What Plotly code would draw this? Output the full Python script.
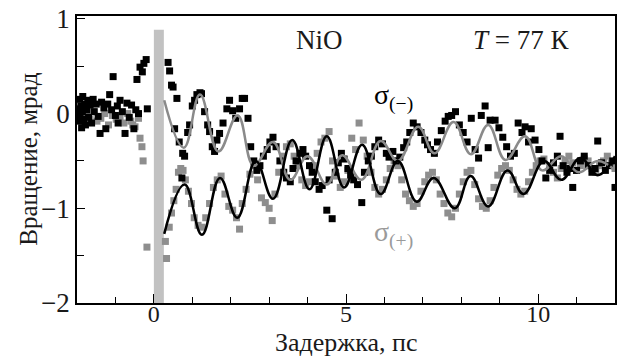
import plotly.graph_objects as go

# ---- data: sigma(-) measured points (black) ----
minus_t = [-1.97,-1.95,-1.93,-1.92,-1.9,-1.88,-1.86,-1.85,-1.83,-1.8,-1.78,-1.75,-1.72,-1.7,-1.66,-1.62,-1.58,-1.55,-1.5,-1.45,
           -1.4,-1.36,-1.3,-1.25,-1.2,-1.15,-1.1,-1.06,-1.0,-0.95,-0.93,-0.88,-0.82,-0.75,-0.7,-0.64,-0.58,-0.52,-0.47,-0.44,
           -0.4,-0.36,-0.3,-0.26,-0.2,-0.17,
           0.37,0.41,0.46,0.5,0.54,0.6,0.66,0.73,0.75,0.8,0.88,0.93,1.0,1.06,1.12,1.2,1.24,1.32,1.4,1.45,1.52,1.58,1.64,1.71,
           1.8,1.9,1.97,2.05,2.13,2.23,2.3,2.36,2.45,2.52,2.6,2.68,2.76,2.85,2.95,3.02,3.1,3.18,3.28,3.38,3.45,3.55,3.62,3.7,
           3.8,3.88,3.95,4.05,4.12,4.2,4.3,4.38,4.5,4.56,4.64,4.72,4.8,4.88,4.95,5.05,5.12,5.2,5.3,5.41,5.48,5.58,5.66,5.75,
           5.85,5.95,6.05,6.12,6.22,6.3,6.4,6.5,6.58,6.66,6.75,6.85,6.95,7.05,7.12,7.2,7.3,7.38,7.48,7.58,7.66,7.75,7.85,7.95,
           8.05,8.15,8.26,8.36,8.45,8.52,8.62,8.7,8.75,8.88,8.98,9.08,9.18,9.28,9.38,9.48,9.58,9.66,9.75,9.82,9.92,10.02,10.1,
           10.2,10.3,10.4,10.5,10.57,10.65,10.75,10.82,10.9,11.0,11.1,11.2,11.3,11.4,11.48,11.55,11.65,11.75,11.85,11.94,12.0]
minus_v = [0.05,-0.08,0.15,-0.02,0.08,-0.15,0.02,0.18,-0.06,0.1,-0.12,0.04,0.14,-0.04,0.09,-0.1,0.15,0.02,0.1,-0.03,
           -0.21,0.12,0.06,-0.16,0.1,0.2,0.04,0.39,-0.02,0.08,-0.1,0.14,0.02,-0.21,0.11,-0.04,0.09,-0.16,0.04,0.36,
           0.0,0.49,0.44,0.53,0.57,0.05,
           0.54,0.45,0.3,0.28,-0.16,0.16,-0.3,-0.68,-0.42,-0.45,-0.2,-0.12,0.08,0.14,0.2,0.22,0.21,0.02,-0.12,-0.19,-0.35,-0.4,-0.28,-0.21,
           -0.1,0.05,0.14,0.03,-0.05,0.05,0.16,0.16,-0.05,-0.35,-0.5,-0.6,-0.55,-0.45,-0.38,-0.3,-0.25,-0.35,-0.5,-0.62,-0.68,-0.72,-0.58,-0.5,
           -0.42,-0.38,-0.45,-0.55,-0.62,-0.72,-0.8,-0.76,-1.02,-0.7,-1.11,-0.62,-0.52,-0.42,-0.48,-0.58,-0.65,-0.7,-0.75,-0.94,-0.62,-0.5,-0.45,-0.35,
           -0.28,-0.32,-0.42,-0.46,-0.4,-0.5,-0.46,-0.36,-0.3,-0.2,-0.1,-0.14,-0.2,-0.28,-0.33,-0.38,-0.42,-0.3,-0.18,-0.08,-0.03,-0.02,0.02,-0.12,
           -0.2,-0.3,-0.05,-0.38,-0.47,-0.02,0.08,-0.36,-0.07,-0.07,-0.15,-0.25,-0.35,-0.45,-0.42,-0.1,-0.2,-0.14,-0.3,-0.16,-0.28,-0.38,-0.5,
           -0.68,-0.6,-0.52,-0.45,-0.24,-0.55,-0.62,-0.58,-0.78,-0.6,-0.5,-0.45,-0.55,-0.62,-0.58,-0.29,-0.52,-0.6,-0.55,-0.5,-0.78,-0.62]

# ---- data: sigma(+) measured points (grey) ----
plus_t = [-1.96,-1.9,-1.82,-1.74,-1.66,-1.58,-1.48,-1.38,-1.28,-1.18,-1.08,-0.98,-0.88,-0.78,-0.68,-0.6,-0.55,-0.49,-0.4,-0.36,
          -0.31,-0.28,-0.18,
          0.3,0.33,0.4,0.46,0.52,0.58,0.64,0.7,0.76,0.82,0.9,0.98,1.05,1.15,1.25,1.35,1.45,1.55,1.65,1.75,1.85,1.95,2.05,
          2.15,2.23,2.3,2.4,2.5,2.6,2.7,2.8,2.9,3.0,3.08,3.15,3.25,3.35,3.45,3.55,3.65,3.75,3.85,3.95,4.05,4.15,4.25,4.35,
          4.45,4.56,4.65,4.75,4.85,4.95,5.05,5.15,5.25,5.34,5.45,5.55,5.65,5.75,5.85,5.95,6.05,6.15,6.25,6.35,6.45,6.55,
          6.65,6.75,6.85,6.95,7.05,7.15,7.25,7.35,7.45,7.55,7.65,7.75,7.85,7.95,8.05,8.15,8.25,8.35,8.45,8.55,8.65,8.75,
          8.85,8.95,9.05,9.15,9.25,9.35,9.45,9.55,9.65,9.75,9.85,9.95,10.05,10.15,10.3,10.4,10.5,10.6,10.7,10.8,10.9,11.0,
          11.1,11.2,11.3,11.4,11.5,11.6,11.7,11.8,11.9,12.0]
plus_v = [-0.02,0.04,-0.1,0.0,-0.06,0.02,-0.08,-0.05,0.0,-0.12,-0.02,-0.06,-0.04,-0.1,0.0,-0.08,-0.12,-0.14,-0.05,-0.26,
          -0.35,-0.5,-1.41,
          -1.35,-1.53,-1.2,-1.05,-0.92,-0.8,-0.62,-0.58,-0.6,-0.7,-0.82,-0.95,-1.1,-1.18,-1.2,-1.1,-0.95,-0.78,-0.7,-0.66,-0.85,-0.98,-1.02,
          -1.1,-1.22,-0.95,-0.8,-0.64,-0.55,-0.7,-0.89,-0.94,-1.0,-1.13,-0.85,-0.62,-0.45,-0.35,-0.32,-0.45,-0.55,-0.7,-0.76,-0.72,-0.55,-0.42,-0.3,
          -0.26,-0.19,-0.5,-0.66,-0.78,-0.72,-0.6,-0.26,-0.38,-0.1,-0.28,-0.45,-0.62,-0.78,-0.85,-0.8,-0.7,-0.58,-0.5,-0.55,-0.7,-0.85,
          -0.92,-0.98,-0.95,-0.82,-0.72,-0.65,-0.62,-0.7,-0.85,-0.95,-1.05,-1.09,-1.0,-0.85,-0.72,-0.62,-0.6,-0.75,-0.9,-0.98,-1.0,-0.92,
          -0.78,-0.65,-0.58,-0.55,-0.6,-0.7,-0.8,-0.85,-0.82,-0.72,-0.62,-0.55,-0.5,-0.48,-0.55,-0.62,-0.68,-0.58,-0.5,-0.45,-0.52,-0.6,
          -0.55,-0.48,-0.5,-0.58,-0.62,-0.55,-0.5,-0.45,-0.52,-0.58]

# ---- fitted curves: extrema ----
fit_minus_t = [0.27,0.78,1.2,1.68,2.18,2.6,3.1,3.55,4.0,4.5,4.9,5.4,5.9,6.35,6.88,7.3,7.8,8.25,8.7,9.15,9.66,10.1,10.6,11.05,11.55,12.0]
fit_minus_v = [0.14,-0.36,0.2,-0.4,-0.02,-0.55,-0.3,-0.7,-0.45,-0.75,-0.44,-0.7,-0.29,-0.5,-0.14,-0.42,-0.09,-0.43,-0.12,-0.49,-0.24,-0.6,-0.45,-0.62,-0.5,-0.6]
fit_plus_t = [0.27,0.8,1.25,1.72,2.17,2.65,3.1,3.6,4.05,4.5,4.95,5.42,5.9,6.35,6.84,7.28,7.83,8.24,8.7,9.2,9.62,10.15,10.6,11.1,11.55,12.0]
fit_plus_v = [-1.27,-0.75,-1.28,-0.68,-1.1,-0.5,-0.9,-0.28,-0.8,-0.24,-0.78,-0.33,-0.85,-0.5,-0.93,-0.68,-1.0,-0.66,-0.98,-0.6,-0.85,-0.5,-0.7,-0.47,-0.65,-0.45]

FONT = "Liberation Serif"
fig = go.Figure()
fig.add_trace(go.Scatter(x=plus_t, y=plus_v, mode="markers",
                         marker=dict(symbol="square", size=7, color="#8e8e8e"), showlegend=False))
fig.add_trace(go.Scatter(x=minus_t, y=minus_v, mode="markers",
                         marker=dict(symbol="square", size=7, color="#000000"), showlegend=False))
fig.add_trace(go.Scatter(x=fit_minus_t, y=fit_minus_v, mode="lines",
                         line=dict(color="#8a8a8a", width=2.5, shape="spline", smoothing=1.2), showlegend=False))
fig.add_trace(go.Scatter(x=fit_plus_t, y=fit_plus_v, mode="lines",
                         line=dict(color="#000000", width=2.5, shape="spline", smoothing=1.2), showlegend=False))

fig.add_shape(type="rect", x0=0, x1=0.26, y0=-2, y1=0.885, line=dict(width=0),
              fillcolor="#c2c2c2", layer="below")

fig.update_layout(
    width=620, height=356,
    margin=dict(l=77, r=3, t=16, b=53),
    paper_bgcolor="white", plot_bgcolor="white",
    font=dict(family=FONT, size=26, color="#1a1a1a"),
    xaxis=dict(range=[-2, 12], dtick=5, ticks="inside", ticklen=9, tickwidth=1.2, tickcolor="black",
               showline=True, linecolor="black", linewidth=1.5, mirror=True, showgrid=False, zeroline=False,
               minor=dict(dtick=1, ticks="inside", ticklen=6, tickcolor="black", showgrid=False),
               ticklabelstandoff=-12,
               tickfont=dict(family=FONT, size=24)),
    yaxis=dict(range=[-2, 1.03], dtick=1, ticks="inside", ticklen=8, tickwidth=1.2, tickcolor="black",
               showline=True, linecolor="black", linewidth=1.5, mirror=True, showgrid=False, zeroline=False,
               minor=dict(dtick=0.5, ticks="inside", ticklen=7, tickcolor="black", showgrid=False),
               tickfont=dict(family=FONT, size=27)),
    annotations=[
        dict(text="Задержка, пс", xref="paper", yref="paper", x=0.5, y=-0.138, xanchor="center", yanchor="middle",
             showarrow=False, font=dict(size=26)),
        dict(text="Вращение, мрад", xref="paper", yref="paper", x=-0.0907, y=0.5, xanchor="center", yanchor="middle",
             textangle=-90, showarrow=False, font=dict(size=25)),
        dict(text="NiO", x=4.3, y=0.78, xanchor="center", yanchor="middle", showarrow=False, font=dict(size=27)),
        dict(text="<i>T</i> = 77 К", x=9.56, y=0.78, xanchor="center", yanchor="middle", showarrow=False, font=dict(size=27)),
        dict(text="σ<sub>(−)</sub>", x=5.67, y=0.17, xanchor="left", yanchor="middle", showarrow=False,
             font=dict(size=28, color="#000000")),
        dict(text="σ<sub>(+)</sub>", x=5.67, y=-1.27, xanchor="left", yanchor="middle", showarrow=False,
             font=dict(size=28, color="#9a9a9a")),
    ],
)
fig.write_html("out.html")
